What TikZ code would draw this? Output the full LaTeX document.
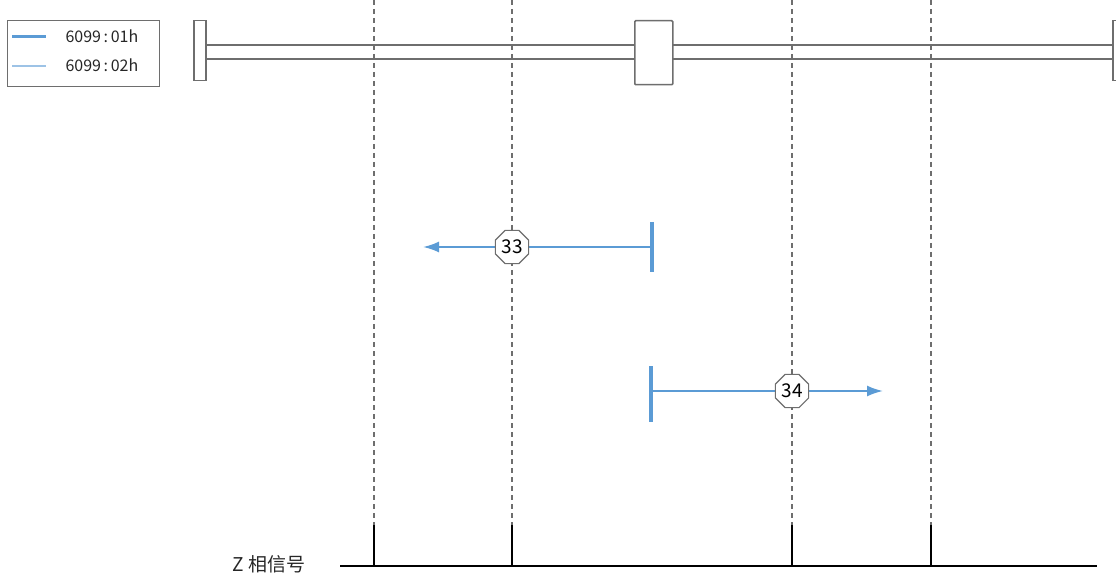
\documentclass[tikz,border=0pt]{standalone}
\usepackage{fontspec}
\setmainfont{Noto Sans CJK SC}
\usetikzlibrary{shapes.geometric,arrows.meta}
\definecolor{blu}{HTML}{5B9BD5}
\definecolor{lblu}{HTML}{9DC3E6}
\definecolor{gr}{HTML}{6E6E6E}
\tikzset{
  px/.style={x=1pt,y=-1pt},
  railbox/.style={draw=gr,fill=white,line width=1.5pt},
  guide/.style={draw=gr,dash pattern=on 5pt off 4pt,line width=1.1pt},
  tick/.style={draw=black,line width=1.6pt},
  flow/.style={draw=blu,line width=2pt},
  stopbar/.style={draw=blu,line width=3.2pt},
  oct/.style={regular polygon,regular polygon sides=8,draw=gr,fill=white,line width=1.1pt,inner sep=0pt,minimum size=36pt,font=\fontsize{19}{19}\selectfont},
  lbl/.style={font=\fontsize{16}{16}\selectfont,text=black!85}
}
\begin{document}
\begin{tikzpicture}[px]
\useasboundingbox (0,0) rectangle (1116,577);
% legend
\node[draw=gr,line width=1.2pt,minimum width=152pt,minimum height=66pt,anchor=north west,inner sep=0pt] (leg) at (7,20) {};
\coordinate (l1a) at (12,37); \coordinate (l1b) at (46,37);
\coordinate (l2a) at (12,66); \coordinate (l2b) at (46,66);
\draw[blu,line width=3pt] (l1a) -- (l1b);
\draw[lblu,line width=2.2pt] (l2a) -- (l2b);
\node[lbl,anchor=west] (t1) at (62,36) {6099\,:\,01h};
\node[lbl,anchor=west] (t2) at (62,65) {6099\,:\,02h};
% rail
\coordinate (ra1) at (205,45); \coordinate (rb1) at (1112,45);
\coordinate (ra2) at (205,59); \coordinate (rb2) at (1112,59);
\draw[gr,line width=1.6pt] (ra1) -- (rb1);
\draw[gr,line width=1.6pt] (ra2) -- (rb2);
\node[railbox,anchor=north west,minimum width=12pt,minimum height=60pt,inner sep=0pt] (lstop) at (193,20) {};
\node[railbox,anchor=north west,minimum width=8pt,minimum height=60pt,inner sep=0pt] (rstop) at (1112,20) {};
\node[railbox,anchor=north west,minimum width=38pt,minimum height=64pt,inner sep=0pt,rounded corners=1pt] (mid) at (634,20) {};
% guides
\foreach \n/\x in {a/374,b/512,c/792,d/931}{
  \coordinate (g\n0) at (\x,0);
  \coordinate (g\n1) at (\x,525);
  \coordinate (g\n2) at (\x,566);
  \draw[guide] (g\n0) -- (g\n1);
  \draw[tick] (g\n1) -- (g\n2);
}
% Z signal
\coordinate (z0) at (340,566); \coordinate (z1) at (1097,566);
\draw[black,line width=1.6pt] (z0) -- (z1);
\node[font=\fontsize{19}{19}\selectfont,anchor=east,text=black!85] (zl) at (309,564) {Z 相信号};
% arrow 33
\coordinate (s33a) at (652,222); \coordinate (s33b) at (652,272);
\coordinate (s33) at (652,247); \coordinate (e33) at (423,247);
\draw[stopbar] (s33a) -- (s33b);
\draw[flow,-{Latex[length=16pt,width=11pt]}] (s33) -- (e33);
\node[oct] (o33) at (512,247) {33};
% arrow 34
\coordinate (s34a) at (651,366); \coordinate (s34b) at (651,422);
\coordinate (s34) at (651,391); \coordinate (e34) at (883,391);
\draw[stopbar] (s34a) -- (s34b);
\draw[flow,-{Latex[length=16pt,width=11pt]}] (s34) -- (e34);
\node[oct] (o34) at (792,391) {34};
\end{tikzpicture}
\end{document}
